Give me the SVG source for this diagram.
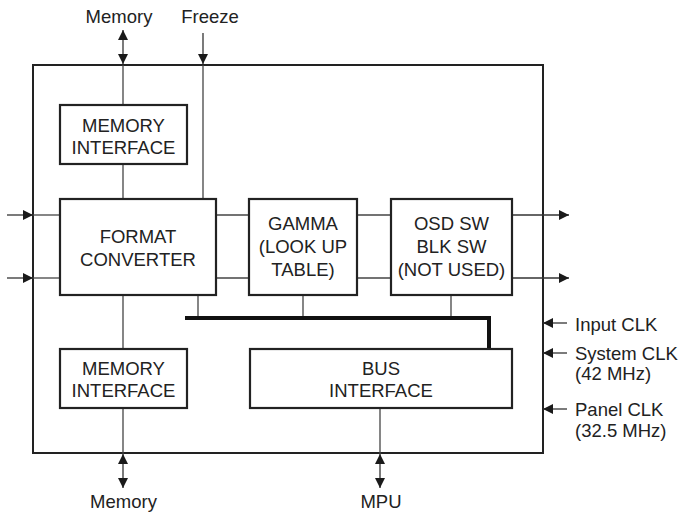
<svg xmlns="http://www.w3.org/2000/svg" width="681" height="516" viewBox="0 0 681 516">
  <defs>
    <marker id="ah" viewBox="0 0 10 10" refX="10" refY="5" markerWidth="10" markerHeight="10" markerUnits="userSpaceOnUse" orient="auto-start-reverse">
      <path d="M0,0 L10,5 L0,10 Z" fill="#1a1a1a"/>
    </marker>
  </defs>
  <style>
    .box { fill: #ffffff; stroke: #222; stroke-width: 2.2; }
    .outer { fill: none; stroke: #222; stroke-width: 2; }
    .ln { fill: none; stroke: #444; stroke-width: 1.3; }
    .arr { fill: none; stroke: #333; stroke-width: 1.3; marker-end: url(#ah); }
    .darr { fill: none; stroke: #333; stroke-width: 1.3; marker-start: url(#ah); marker-end: url(#ah); }
    .bus { fill: none; stroke: #111; stroke-width: 4; stroke-linejoin: miter; }
    text { font-family: "Liberation Sans", Arial, sans-serif; font-size: 18.5px; fill: #222; }
    .c { text-anchor: middle; }
  </style>

  <rect id="outer" class="outer" x="33" y="65" width="510" height="388"/>

  <g id="connectors">
    <!-- top memory -->
    <line class="darr" x1="123" y1="30" x2="123" y2="64"/>
    <line class="ln" x1="123" y1="65" x2="123" y2="105"/>
    <line class="ln" x1="123" y1="164" x2="123" y2="199"/>
    <!-- freeze -->
    <line class="arr" x1="203" y1="33" x2="203" y2="64"/>
    <line class="ln" x1="203" y1="65" x2="203" y2="199"/>
    <!-- left inputs -->
    <line class="arr" x1="7" y1="215" x2="33" y2="215"/>
    <line class="arr" x1="7" y1="278" x2="33" y2="278"/>
    <line class="ln" x1="33" y1="215" x2="60" y2="215"/>
    <line class="ln" x1="33" y1="278" x2="60" y2="278"/>
    <!-- between blocks -->
    <line class="ln" x1="216" y1="215" x2="249" y2="215"/>
    <line class="ln" x1="216" y1="278" x2="249" y2="278"/>
    <line class="ln" x1="357" y1="215" x2="391" y2="215"/>
    <line class="ln" x1="357" y1="278" x2="391" y2="278"/>
    <!-- outputs -->
    <line class="arr" x1="512" y1="215" x2="569" y2="215"/>
    <line class="arr" x1="512" y1="278" x2="569" y2="278"/>
    <!-- drops to bus -->
    <line class="ln" x1="198" y1="295" x2="198" y2="318"/>
    <line class="ln" x1="303" y1="295" x2="303" y2="318"/>
    <line class="ln" x1="451" y1="295" x2="451" y2="318"/>
    <!-- bus -->
    <polyline class="bus" points="185,318 489,318 489,349"/>
    <!-- FC to lower memory interface -->
    <line class="ln" x1="123" y1="295" x2="123" y2="349"/>
    <!-- bottom memory -->
    <line class="ln" x1="123" y1="408" x2="123" y2="454"/>
    <line class="darr" x1="123" y1="454" x2="123" y2="488"/>
    <!-- MPU -->
    <line class="ln" x1="380" y1="408" x2="380" y2="454"/>
    <line class="darr" x1="380" y1="454" x2="380" y2="488"/>
    <!-- clocks -->
    <line class="arr" x1="567" y1="323" x2="543" y2="323"/>
    <line class="arr" x1="567" y1="353" x2="543" y2="353"/>
    <line class="arr" x1="567" y1="409" x2="543" y2="409"/>
  </g>

  <g id="mem-if-top">
    <rect class="box" x="60" y="105" width="127" height="59"/>
    <text class="c" x="123.5" y="131.5">MEMORY</text>
    <text class="c" x="123.5" y="154">INTERFACE</text>
  </g>

  <g id="format-converter">
    <rect class="box" x="60" y="199" width="156" height="96"/>
    <text class="c" x="138" y="243">FORMAT</text>
    <text class="c" x="138" y="266">CONVERTER</text>
  </g>

  <g id="gamma">
    <rect class="box" x="249" y="199" width="108" height="96"/>
    <text class="c" x="303" y="230">GAMMA</text>
    <text class="c" x="303" y="253">(LOOK UP</text>
    <text class="c" x="303" y="276">TABLE)</text>
  </g>

  <g id="osd">
    <rect class="box" x="391" y="199" width="121" height="96"/>
    <text class="c" x="451.5" y="230">OSD SW</text>
    <text class="c" x="451.5" y="253">BLK SW</text>
    <text class="c" x="451.5" y="276">(NOT USED)</text>
  </g>

  <g id="mem-if-bottom">
    <rect class="box" x="60" y="349" width="127" height="59"/>
    <text class="c" x="123.5" y="375">MEMORY</text>
    <text class="c" x="123.5" y="397">INTERFACE</text>
  </g>

  <g id="bus-interface">
    <rect class="box" x="250" y="349" width="262" height="59"/>
    <text class="c" x="381" y="375">BUS</text>
    <text class="c" x="381" y="397">INTERFACE</text>
  </g>

  <g id="labels">
    <text class="c" x="119" y="23">Memory</text>
    <text class="c" x="210" y="23">Freeze</text>
    <text class="c" x="123.5" y="508">Memory</text>
    <text class="c" x="381" y="508">MPU</text>
    <text x="575" y="331">Input CLK</text>
    <text x="575" y="360">System CLK</text>
    <text x="575" y="380">(42 MHz)</text>
    <text x="575" y="416">Panel CLK</text>
    <text x="575" y="437">(32.5 MHz)</text>
  </g>
</svg>
